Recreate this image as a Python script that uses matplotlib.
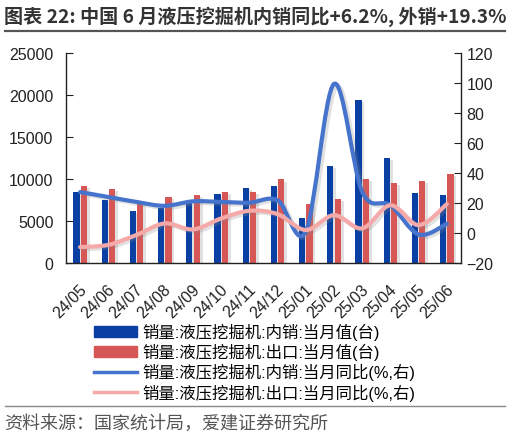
import matplotlib
matplotlib.use('Agg')
import matplotlib.pyplot as plt
import matplotlib.patheffects as pe
import matplotlib.transforms as mtransforms
from matplotlib.path import Path
from matplotlib.patches import PathPatch, Patch
from matplotlib.lines import Line2D
import numpy as np

plt.rcParams['font.family'] = ['Liberation Sans', 'Noto Sans CJK SC']

# data
months = ['24/05', '24/06', '24/07', '24/08', '24/09', '24/10', '24/11',
          '24/12', '25/01', '25/02', '25/03', '25/04', '25/05', '25/06']
domestic = [8400, 7500, 6200, 6600, 7200, 8200, 8900,
            9200, 5300, 11500, 19400, 12500, 8300, 8100]
export = [9200, 8850, 7100, 7900, 8150, 8500, 8500,
          9950, 7050, 7600, 10000, 9500, 9750, 10600]
domestic_yoy = [27.3, 24.0, 20.7, 18.1, 21.1, 20.7, 20.2,
                21.8, 1.0, 99.4, 27.3, 18.5, -1.0, 6.2]
export_yoy = [-9.4, -7.9, -1.3, 6.4, 2.4, 9.7, 14.8,
              12.6, 2.0, 11.9, 3.1, 18.5, 5.3, 19.3]

labels = ['销量:液压挖掘机:内销:当月值(台)', '销量:液压挖掘机:出口:当月值(台)',
          '销量:液压挖掘机:内销:当月同比(%,右)', '销量:液压挖掘机:出口:当月同比(%,右)']

c_dom = '#0a3fa3'
c_exp = '#d75656'
c_dom_line = '#4673cc'
c_exp_line = '#f5a9a9'


def smooth_path(xs, ys):
    # Catmull-Rom style smoothing drawn as cubic bezier segments
    pts = np.column_stack([xs, ys]).astype(float)
    n = len(pts)
    verts = [pts[0]]
    codes = [Path.MOVETO]
    for i in range(n - 1):
        p0 = pts[i - 1] if i > 0 else pts[i]
        p1 = pts[i]
        p2 = pts[i + 1]
        p3 = pts[i + 2] if i + 2 < n else pts[i + 1]
        c1 = p1 + (p2 - p0) / 6.0
        c2 = p2 - (p3 - p1) / 6.0
        verts += [c1, c2, p2]
        codes += [Path.CURVE4] * 3
    return Path(verts, codes)


fig = plt.figure(figsize=(5.13, 4.39), dpi=100)
ax = fig.add_axes([66 / 513, 1 - 264 / 439, 395 / 513, 210 / 439])
ax2 = ax.twinx()

x = np.arange(len(months))
bar_shadow = [pe.SimplePatchShadow(offset=(2, -1.5), shadow_rgbFace='#888888', alpha=0.25), pe.Normal()]
ax.bar(x - 0.13, domestic, width=0.22, color=c_dom, path_effects=bar_shadow)
ax.bar(x + 0.13, export, width=0.22, color=c_exp, path_effects=bar_shadow)

ax.set_xlim(-0.5, len(months) - 0.5)
ax.set_ylim(0, 25000)
ax.set_yticks(range(0, 25001, 5000))
ax2.set_ylim(-20, 120)
ax2.set_yticks(range(-20, 121, 20))

line_shadow = [pe.SimpleLineShadow(offset=(2, -1.5), shadow_color='#888888', alpha=0.25), pe.Normal()]
for vals, col in [(domestic_yoy, c_dom_line), (export_yoy, c_exp_line)]:
    patch = PathPatch(smooth_path(x, vals), facecolor='none', edgecolor=col,
                      lw=3.0, capstyle='round', joinstyle='round', path_effects=line_shadow)
    ax2.add_patch(patch)

for a in (ax, ax2):
    a.spines['top'].set_visible(False)
    for s in a.spines.values():
        s.set_linewidth(1.0)
        s.set_color('#222222')
ax.spines['right'].set_visible(False)
ax2.spines['left'].set_visible(False)
ax2.spines['bottom'].set_visible(False)

ax.tick_params(axis='y', direction='in', length=5, pad=9, labelsize=11.5, colors='#222222')
ax2.tick_params(axis='y', direction='in', length=5, pad=4, labelsize=11.5, colors='#222222')
ax.set_xticks(x)
ax.set_xticklabels(months, rotation=45, ha='right', va='center', rotation_mode='anchor')
ax.tick_params(axis='x', length=0, pad=17, labelsize=11.5, colors='#222222')
shift = mtransforms.ScaledTranslation(4 / 100, 0, fig.dpi_scale_trans)
for lab in ax.get_xticklabels():
    lab.set_transform(lab.get_transform() + shift)

handles = [Patch(color=c_dom), Patch(color=c_exp),
           Line2D([], [], color=c_dom_line, lw=2.5),
           Line2D([], [], color=c_exp_line, lw=2.5)]
fig.legend(handles, labels, loc='upper left', bbox_to_anchor=(94 / 513, 1 - 324 / 439),
           frameon=False, handlelength=2.6, handleheight=0.6,
           labelspacing=0.18, handletextpad=0.35, borderaxespad=0, borderpad=0,
           prop={'family': ['Liberation Sans', 'Noto Sans CJK SC'], 'size': 11.8})

fig.text(4 / 513, 1 - 17 / 439, '图表 22: 中国 6 月液压挖掘机内销同比+6.2%, 外销+19.3%',
         fontsize=13.75, fontweight='bold', color='#333333', va='center', ha='left',
         family=['Noto Sans CJK SC'])
fig.add_artist(Line2D([5 / 513, 505 / 513], [1 - 32 / 439] * 2, color='#555555', lw=1.6))
fig.add_artist(Line2D([5 / 513, 505 / 513], [1 - 407 / 439] * 2, color='#888888', lw=1.0))
fig.text(4 / 513, 1 - 424 / 439, '资料来源：国家统计局，爱建证券研究所', fontsize=13,
         color='#555555', va='center', ha='left', family=['Noto Sans CJK SC'])

fig.savefig('out.png', dpi=100)
